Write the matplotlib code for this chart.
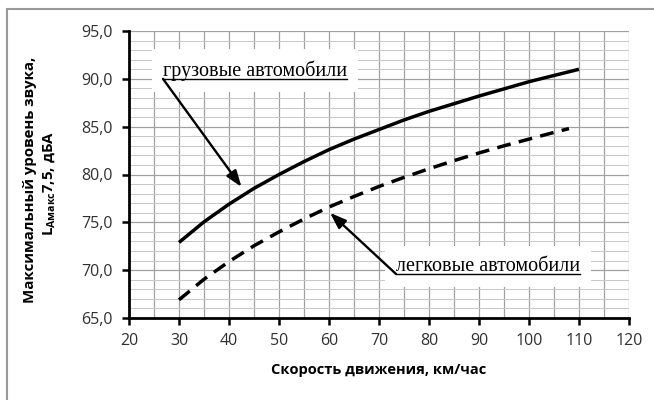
import numpy as np
import matplotlib
matplotlib.use('Agg')
import matplotlib.pyplot as plt
from matplotlib.lines import Line2D
from matplotlib.patches import Rectangle

# данные (каждые 5 км/ч)
speed_trucks = [30, 35, 40, 45, 50, 55, 60, 65, 70, 75, 80, 85, 90, 95, 100, 105, 110]
level_trucks = [72.9, 75.05, 76.9, 78.55, 80.0, 81.35, 82.6, 83.7, 84.7, 85.7,
                86.6, 87.4, 88.2, 88.95, 89.7, 90.35, 91.0]
speed_cars = [30, 35, 40, 45, 50, 55, 60, 65, 70, 75, 80, 85, 90, 95, 100, 105, 108]
level_cars = [66.9, 69.05, 70.9, 72.55, 74.0, 75.35, 76.6, 77.7, 78.75, 79.7,
              80.6, 81.45, 82.25, 83.0, 83.7, 84.4, 84.8]

x_ticks = [20, 30, 40, 50, 60, 70, 80, 90, 100, 110, 120]
y_ticks = [65, 70, 75, 80, 85, 90, 95]

label_trucks = 'грузовые автомобили'
label_cars = 'легковые автомобили'

plt.rcParams['font.family'] = ['Open Sans', 'DejaVu Sans']
plt.rcParams['mathtext.fontset'] = 'custom'
plt.rcParams['mathtext.rm'] = 'Open Sans:bold'

fig = plt.figure(figsize=(6.54, 4.0), dpi=100)
ax = fig.add_axes([129 / 654, 1 - 318 / 400, 500 / 654, 287 / 400])

# рамка вокруг всего рисунка
fig.patches.append(Rectangle((7 / 654, -0.1), 1.2, 1 - 9 / 400 + 0.1,
                             transform=fig.transFigure, fill=False,
                             edgecolor='#9a9a9a', linewidth=1.5))

ax.set_xlim(20, 120)
ax.set_ylim(65, 95)
ax.set_xticks(x_ticks)
ax.set_yticks(y_ticks)
ax.set_xticks(np.arange(25, 120, 10), minor=True)
ax.set_yticks(np.arange(65, 95, 1), minor=True)
ax.set_yticklabels([f'{v:.1f}'.replace('.', ',') for v in y_ticks])

ax.grid(which='major', color='#a0a0a0', linewidth=0.9)
ax.grid(which='minor', axis='y', color='#c8c8c8', linewidth=0.7)
ax.grid(which='minor', axis='x', color='#a0a0a0', linewidth=0.9)
ax.set_axisbelow(True)

for s in ['top', 'right']:
    ax.spines[s].set_visible(False)
for s in ['left', 'bottom']:
    ax.spines[s].set_linewidth(2.0)
    ax.spines[s].set_color('black')

ax.tick_params(which='major', direction='out', length=5, width=1.8,
               labelsize=11.5, labelcolor='#303030')
ax.tick_params(axis='x', pad=6)
ax.tick_params(axis='y', pad=7)
ax.tick_params(which='minor', length=0)

ax.plot(speed_trucks, level_trucks, color='black', linewidth=2.5,
        solid_capstyle='butt', solid_joinstyle='round')
ax.plot(speed_cars, level_cars, color='black', linewidth=2.5,
        linestyle=(0, (4, 2.4)), dash_capstyle='butt')

ax.set_xlabel('Скорость движения, км/час', fontsize=10.5, fontweight='bold',
              labelpad=10)
fig.text(30 / 654, 1 - 180 / 400, 'Максимальный уровень звука,',
         rotation=90, ha='center', va='center', fontsize=10.8,
         fontweight='bold')
fig.text(50 / 654, 1 - 183 / 400, r'L$_{\mathregular{Aмакс}}$7,5, дБА',
         rotation=90, ha='center', va='center', fontsize=10.8,
         fontweight='bold')

# подписи со стрелками
serif = ['Liberation Serif', 'DejaVu Serif']
t1 = ax.text(26.8, 90.3, label_trucks, family=serif, fontsize=14.5,
             ha='left', va='baseline',
             bbox=dict(facecolor='white', edgecolor='none', pad=8))
t2 = ax.text(73.4, 69.9, label_cars, family=serif, fontsize=14.5,
             ha='left', va='baseline',
             bbox=dict(facecolor='white', edgecolor='none', pad=8))

arrow = dict(arrowstyle='-|>,head_length=0.7,head_width=0.25', color='black',
             linewidth=1.7, shrinkA=0, shrinkB=0, mutation_scale=14)
ax.annotate('', xy=(42.5, 78.7), xytext=(26.8, 90.0), arrowprops=arrow)
ax.annotate('', xy=(60.2, 76.0), xytext=(73.4, 69.6), arrowprops=arrow)

# подчёркивание текста
fig.canvas.draw()
for t in (t1, t2):
    bb = t.get_window_extent()
    x0, y0 = t.get_position()
    yu = ax.transData.transform((x0, y0))[1] - 3
    p0 = fig.transFigure.inverted().transform((bb.x0, yu))
    p1 = fig.transFigure.inverted().transform((bb.x1, yu))
    fig.lines.append(Line2D([p0[0], p1[0]], [p0[1], p1[1]],
                            transform=fig.transFigure, color='black',
                            linewidth=1.0))

fig.savefig('out.png', dpi=100)
